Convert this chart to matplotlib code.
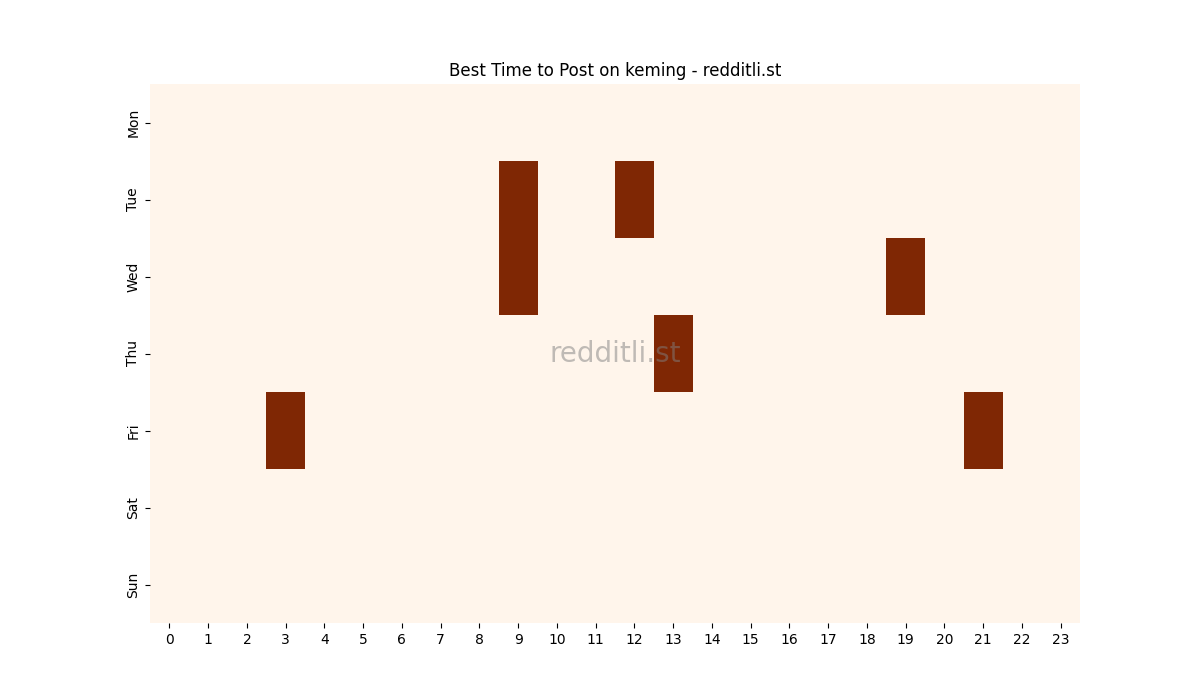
import numpy as np
import pandas as pd
import matplotlib
matplotlib.use("Agg")
import matplotlib.pyplot as plt
import seaborn as sns

days = ["Mon", "Tue", "Wed", "Thu", "Fri", "Sat", "Sun"]
hours = list(range(24))

# best (day, hour) slots
best_slots = [("Tue", 9), ("Tue", 12), ("Wed", 9), ("Wed", 19),
              ("Thu", 13), ("Fri", 3), ("Fri", 21)]

grid = pd.DataFrame(0, index=days, columns=hours)
for d, h in best_slots:
    grid.loc[d, h] = 1

fig, ax = plt.subplots(figsize=(12, 7), dpi=100)
sns.heatmap(grid, cmap="Oranges", cbar=False, ax=ax)
ax.set_title("Best Time to Post on keming - redditli.st")
ax.set_xlabel("")
ax.set_ylabel("")
ax.text(0.5, 0.5, "redditli.st", transform=ax.transAxes, fontsize=20,
        color="gray", alpha=0.5, ha="center", va="center")
fig.savefig("out.png")
